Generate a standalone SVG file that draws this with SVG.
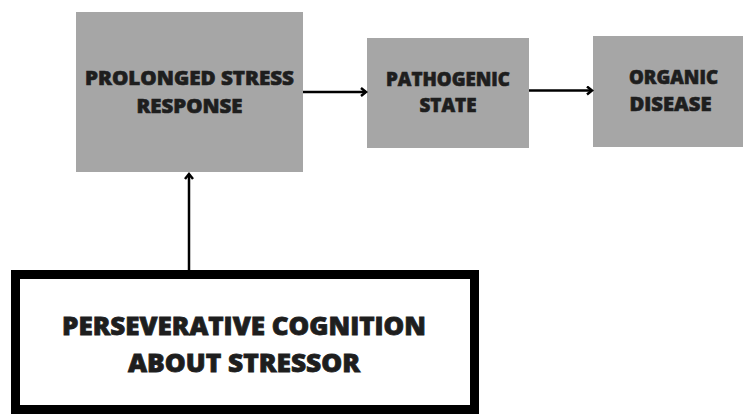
<svg xmlns="http://www.w3.org/2000/svg" width="743" height="415" viewBox="0 0 743 415">
<defs>
<style>
.box{fill:#a6a6a6;}
.t{font-family:"Open Sans","Liberation Sans",sans-serif;font-weight:800;fill:#1e1e1e;stroke:#1e1e1e;stroke-width:0.6;text-anchor:middle;}
.s{font-size:18.5px;}
.b{font-size:25px;stroke-width:0.8;}
.c{stroke:#000;stroke-width:2.5;fill:none;}
</style>
<marker id="ah" markerWidth="10" markerHeight="10" refX="8" refY="5" orient="auto" markerUnits="userSpaceOnUse">
<polyline points="3,1 8,5 3,9" fill="none" stroke="#000" stroke-width="2.5"/>
</marker>
</defs>
<rect width="743" height="415" fill="#fff"/>
<g id="node-prolonged">
<rect class="box" x="76" y="12" width="227" height="160"/>
<text class="t s" x="189.5" y="85" textLength="209" lengthAdjust="spacingAndGlyphs">PROLONGED STRESS</text>
<text class="t s" x="189.5" y="113" textLength="106" lengthAdjust="spacingAndGlyphs">RESPONSE</text>
</g>
<g id="node-pathogenic">
<rect class="box" x="367" y="38" width="162" height="110"/>
<text class="t s" x="448" y="86" textLength="124" lengthAdjust="spacingAndGlyphs">PATHOGENIC</text>
<text class="t s" x="448" y="112" textLength="57" lengthAdjust="spacingAndGlyphs">STATE</text>
</g>
<g id="node-organic">
<rect class="box" x="593" y="36" width="152" height="111"/>
<text class="t s" x="673.5" y="84" textLength="89" lengthAdjust="spacingAndGlyphs">ORGANIC</text>
<text class="t s" x="670.5" y="111" textLength="82" lengthAdjust="spacingAndGlyphs">DISEASE</text>
</g>
<g id="node-perseverative">
<rect x="15.5" y="274.5" width="459" height="135" fill="#fff" stroke="#000" stroke-width="9"/>
<text class="t b" x="244" y="335" textLength="364" lengthAdjust="spacingAndGlyphs">PERSEVERATIVE COGNITION</text>
<text class="t b" x="244" y="372" textLength="232" lengthAdjust="spacingAndGlyphs">ABOUT STRESSOR</text>
</g>
<g id="connectors">
<line class="c" x1="303" y1="92" x2="366" y2="92" marker-end="url(#ah)"/>
<line class="c" x1="529" y1="90.5" x2="592" y2="90.5" marker-end="url(#ah)"/>
<line class="c" x1="189" y1="270" x2="189" y2="174" marker-end="url(#ah)"/>
</g>
</svg>
